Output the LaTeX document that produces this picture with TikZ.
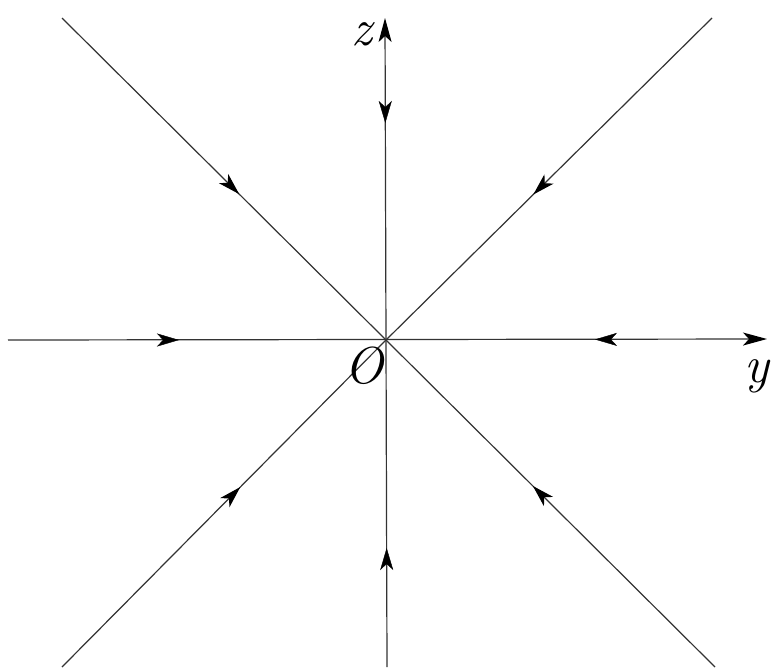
\documentclass[tikz,border=0pt]{standalone}
\usetikzlibrary{arrows.meta,decorations.markings}
\definecolor{ink}{HTML}{333333}

\begin{document}
\begin{tikzpicture}[x=1pt,y=-1pt,
  line/.style={ink,line width=1.2pt},
  inflow/.style={postaction={decorate},decoration={markings,mark=at position #1 with {\arrow[black]{Stealth[length=22pt,width=13pt,inset=6pt]}}}},
  lab/.style={font=\fontsize{52}{60}\selectfont\itshape}]
\useasboundingbox (0,0) rectangle (774,670);
\coordinate (O) at (386,340);
\coordinate (yleft) at (8,340);
\coordinate (ytip) at (767,339);
\coordinate (zbot) at (387,667);
\coordinate (ztip) at (385,18);
\coordinate (nw) at (62,18);
\coordinate (ne) at (712,18);
\coordinate (sw) at (62,667);
\coordinate (se) at (715,667);
% axes
\draw[line,-{Stealth[length=24pt,width=13pt,inset=6pt,color=black]}] (yleft) -- (ytip);
\draw[line,-{Stealth[length=24pt,width=13pt,inset=6pt,color=black]}] (zbot) -- (ztip);
% rays into O
\foreach \p in {nw,ne,sw,se}
  \draw[line,inflow=-207pt] (\p) -- (O);
\foreach \p/\d in {yleft/207,ytip/209,zbot/208,ztip/217}
  \path[inflow=-\d pt] (\p) -- (O);
\node[lab] (zlab) at (362,34) {z};
\node[lab] (ylab) at (757,376) {y};
\node[lab] (olab) at (364,366) {O};
\end{tikzpicture}
\end{document}
